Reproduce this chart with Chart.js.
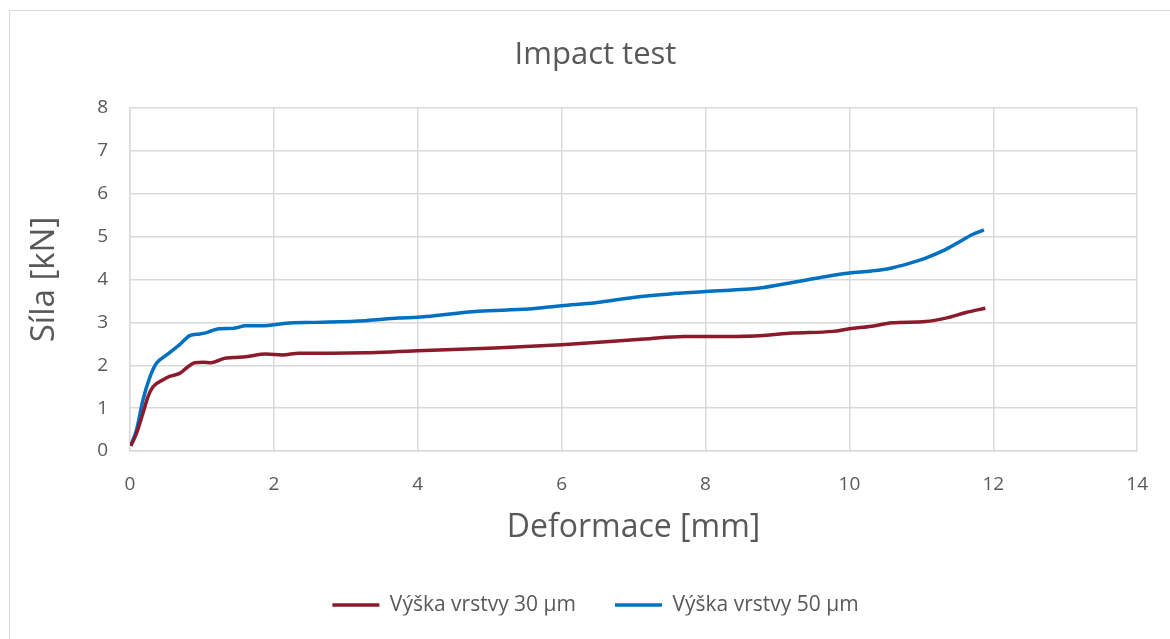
<!DOCTYPE html>
<html>
<head>
<meta charset="utf-8">
<script src="https://cdn.jsdelivr.net/npm/chart.js@4.4.0/dist/chart.umd.min.js"></script>
<style>
	body { margin: 0; background: #fff; }
	#wrap { width: 1170px; height: 639px; }
</style>
</head>
<body>
<div id="wrap"><canvas id="myChart" width="1170" height="639"></canvas></div>
<script>
// deformace [mm] / sila [kN]
const x30 = [0.01, 0.09, 0.18, 0.25, 0.32, 0.46, 0.55, 0.69, 0.78, 0.90, 1.01, 1.13, 1.31, 1.43, 1.61, 1.89, 2.12, 2.35, 2.81, 3.27, 3.73, 4.0, 5.07, 6.0, 7.15, 7.70, 8.0, 8.75, 9.21, 9.77, 10.0, 10.31, 10.59, 11.06, 11.34, 11.62, 11.89];
const y30 = [0.12, 0.41, 0.88, 1.27, 1.50, 1.66, 1.74, 1.81, 1.93, 2.06, 2.07, 2.06, 2.16, 2.18, 2.20, 2.26, 2.24, 2.28, 2.28, 2.29, 2.32, 2.34, 2.40, 2.48, 2.61, 2.67, 2.67, 2.69, 2.75, 2.79, 2.85, 2.91, 2.99, 3.02, 3.10, 3.23, 3.33];

const x50 = [0.01, 0.09, 0.18, 0.28, 0.37, 0.51, 0.69, 0.83, 0.97, 1.04, 1.24, 1.43, 1.61, 1.84, 2.17, 2.58, 3.27, 3.73, 4.0, 4.84, 5.54, 6.0, 6.47, 7.08, 8.0, 8.75, 9.21, 9.68, 10.0, 10.31, 10.59, 10.82, 11.06, 11.29, 11.52, 11.71, 11.87];
const y50 = [0.12, 0.49, 1.19, 1.74, 2.05, 2.24, 2.48, 2.69, 2.73, 2.75, 2.85, 2.86, 2.92, 2.92, 2.98, 3.0, 3.04, 3.10, 3.12, 3.26, 3.31, 3.39, 3.46, 3.60, 3.72, 3.80, 3.93, 4.07, 4.15, 4.20, 4.27, 4.37, 4.50, 4.66, 4.87, 5.05, 5.16];

const seriesNames = ['Výška vrstvy 30 µm', 'Výška vrstvy 50 µm'];
const seriesColors = ['#8B1A2C', '#0070C0'];

const toPoints = (xs, ys) => xs.map((x, i) => ({ x: x, y: ys[i] }));

const txt = '#595959';
const gridColor = '#d9d9d9';
const fontFam = '"Open Sans", sans-serif';

// white background + outer frame
const frame = {
	id: 'frame',
	beforeDraw(chart) {
		const c = chart.ctx;
		c.save();
		c.fillStyle = '#fff';
		c.fillRect(0, 0, chart.width, chart.height);
		c.strokeStyle = gridColor;
		c.lineWidth = 1;
		c.strokeRect(9.5, 10.5, chart.width + 10, chart.height + 10);
		c.restore();
	}
};

// legend padding is also the gap between items; keep its box short
const legendHeight = {
	id: 'legendHeight',
	beforeLayout(chart) {
		const lg = chart.legend;
		if (lg && !lg._fixed) {
			const fit = lg.fit.bind(lg);
			lg.fit = function () {
				fit();
				this.height = 60;
			};
			lg._fixed = true;
		}
	}
};

const ctx = document.getElementById('myChart').getContext('2d');
let myChart = new Chart(ctx, {
	type: 'line',
	data: {
		datasets: [
			{
				label: seriesNames[0],
				data: toPoints(x30, y30),
				borderColor: seriesColors[0],
				backgroundColor: seriesColors[0],
				borderWidth: 3.5,
				pointRadius: 0,
				cubicInterpolationMode: 'monotone'
			},
			{
				label: seriesNames[1],
				data: toPoints(x50, y50),
				borderColor: seriesColors[1],
				backgroundColor: seriesColors[1],
				borderWidth: 3.5,
				pointRadius: 0,
				cubicInterpolationMode: 'monotone'
			}
		]
	},
	options: {
		responsive: false,
		animation: false,
		layout: { padding: { left: 52, right: 31, top: 10, bottom: 23.5 } },
		plugins: {
			title: {
				display: true,
				text: 'Impact test',
				color: txt,
				font: { family: fontFam, size: 31, weight: 'normal', lineHeight: 1.2 },
				padding: { top: 27, bottom: 33.8 }
			},
			legend: {
				position: 'bottom',
				labels: {
					color: txt,
					font: { family: fontFam, size: 21 },
					usePointStyle: true,
					pointStyle: 'line',
					pointStyleWidth: 47,
					padding: 39
				}
			},
			tooltip: { enabled: false }
		},
		scales: {
			x: {
				type: 'linear',
				min: 0,
				max: 14,
				ticks: { stepSize: 2, color: txt, font: { family: fontFam, size: 19 }, padding: 22 },
				grid: { color: gridColor, lineWidth: 1.5, drawTicks: false },
				border: { color: gridColor, width: 1.5 },
				title: {
					display: true,
					text: 'Deformace [mm]',
					color: txt,
					font: { family: fontFam, size: 32, lineHeight: 1.2 },
					padding: { top: 0, bottom: 8.3 }
				},
				afterFit: s => { s.height = 104.5; }
			},
			y: {
				min: 0,
				max: 8,
				ticks: { stepSize: 1, color: txt, font: { family: fontFam, size: 19 }, padding: 22 },
				grid: { color: gridColor, lineWidth: 1.5, drawTicks: false },
				border: { color: gridColor, width: 1.5 },
				title: {
					display: true,
					text: 'Síla [kN]',
					color: txt,
					font: { family: fontFam, size: 33, lineHeight: 1.2 },
					padding: { top: -26.8, bottom: 0 }
				},
				afterFit: s => { s.width = 78; }
			}
		}
	},
	plugins: [frame, legendHeight]
});
</script>
</body>
</html>
